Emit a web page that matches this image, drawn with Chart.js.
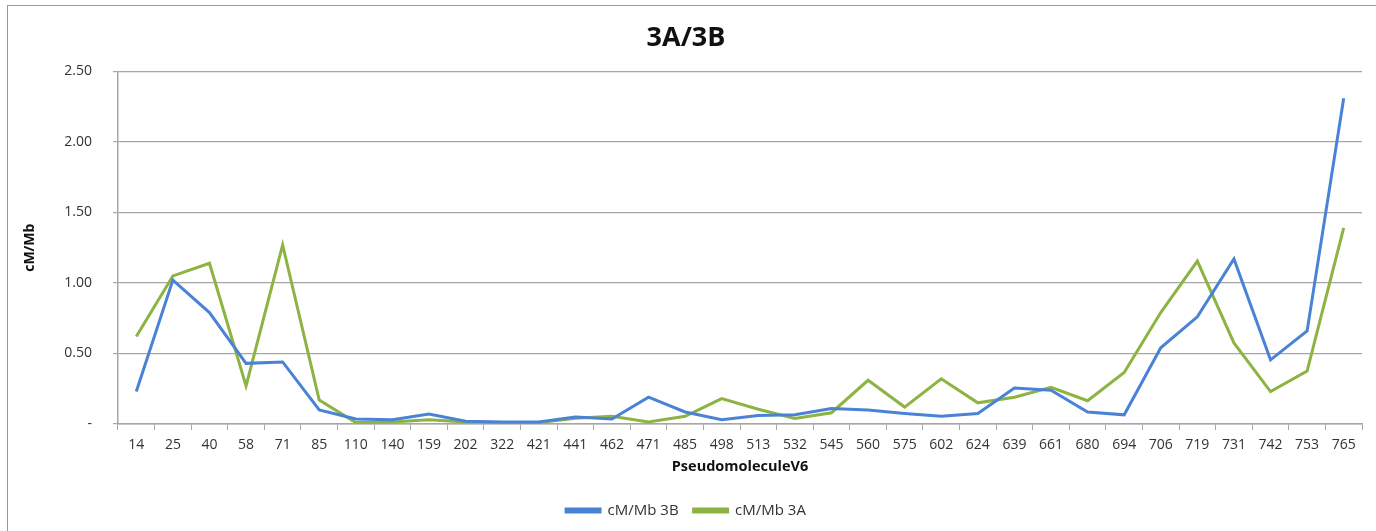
<!DOCTYPE html>
<html>
<head>
<meta charset="utf-8">
<title>3A/3B</title>
<script src="https://cdn.jsdelivr.net/npm/chart.js@4.4.1/dist/chart.umd.min.js"></script>
<style>
  html, body { margin: 0; padding: 0; background: #fff; overflow: hidden; }
  #frame {
    position: absolute; left: 7px; top: 5px; right: -2px; bottom: -2px;
    border-left: 1px solid #9a9a9a; border-top: 1px solid #9a9a9a;
  }
  #chart { position: absolute; left: 0; top: 0; }
</style>
</head>
<body>
<div id="frame"></div>
<canvas id="chart" width="1376" height="531"></canvas>
<script>
// positions along the pseudomolecule
const positions = [14, 25, 40, 58, 71, 85, 110, 140, 159, 202, 322, 421, 441, 462, 471, 485, 498,
  513, 532, 545, 560, 575, 602, 624, 639, 661, 680, 694, 706, 719, 731, 742, 753, 765];

// recombination rate, cM/Mb
const rate3B = [0.23, 1.02, 0.79, 0.43, 0.44, 0.10, 0.035, 0.03, 0.07, 0.02, 0.015, 0.015, 0.05, 0.035,
  0.19, 0.085, 0.03, 0.06, 0.065, 0.11, 0.10, 0.075, 0.055, 0.075, 0.255, 0.24, 0.085, 0.065,
  0.54, 0.76, 1.17, 0.455, 0.66, 2.31];
const rate3A = [0.62, 1.05, 1.14, 0.27, 1.27, 0.17, 0.01, 0.015, 0.03, 0.015, 0.01, 0.01, 0.04, 0.055,
  0.015, 0.055, 0.18, 0.105, 0.04, 0.08, 0.31, 0.12, 0.32, 0.15, 0.19, 0.26, 0.165, 0.365,
  0.79, 1.155, 0.575, 0.23, 0.375, 1.39];

const yTicks = [0, 0.5, 1, 1.5, 2, 2.5];

const baseFont = "'Open Sans', 'DejaVu Sans', sans-serif";
const gridColor = '#a6a6a6';

new Chart(document.getElementById('chart'), {
  type: 'line',
  data: {
    labels: positions.map(String),
    datasets: [
      { label: 'cM/Mb 3B', data: rate3B, borderColor: '#4a83d6', backgroundColor: '#4a83d6',
        borderWidth: 3, pointRadius: 0, tension: 0 },
      { label: 'cM/Mb 3A', data: rate3A, borderColor: '#8db343', backgroundColor: '#8db343',
        borderWidth: 3, pointRadius: 0, tension: 0 }
    ]
  },
  options: {
    responsive: false,
    animation: false,
    devicePixelRatio: 1,
    layout: { padding: { top: 5, left: 10, right: 14, bottom: 3 } },
    plugins: {
      title: {
        display: true, text: '3A/3B', color: '#111',
        font: { family: baseFont, size: 27, weight: 'bold', lineHeight: 1.2 },
        padding: { top: 17, bottom: 17 }
      },
      legend: {
        position: 'bottom',
        labels: {
          color: '#333', font: { family: baseFont, size: 15 },
          boxWidth: 34, boxHeight: 3, padding: 15
        }
      },
      tooltip: { enabled: false }
    },
    scales: {
      x: {
        offset: true,
        grid: { display: true, drawOnChartArea: false, offset: true, tickLength: 6, color: gridColor },
        border: { display: true, color: gridColor, width: 1.5 },
        ticks: { color: '#333', font: { family: baseFont, size: 14 }, padding: 7, maxRotation: 0, autoSkip: false },
        title: {
          display: true, text: 'PseudomoleculeV6', color: '#111',
          font: { family: baseFont, size: 14.5, weight: 'bold' },
          padding: { top: 4, bottom: 12 }
        },
        afterFit: (s) => { s.height = 64; }
      },
      y: {
        min: 0, max: 2.5,
        afterBuildTicks: (s) => { s.ticks = yTicks.map(v => ({ value: v })); },
        grid: { color: gridColor, lineWidth: 1.2, tickLength: 5 },
        border: { display: true, color: gridColor, width: 1.5 },
        ticks: {
          color: '#333', font: { family: baseFont, size: 14 }, padding: 21,
          callback: (v) => v === 0 ? '-' : Number(v).toFixed(2)
        },
        title: {
          display: true, text: 'cM/Mb', color: '#111',
          font: { family: baseFont, size: 14, weight: 'bold' },
          padding: { top: 12, bottom: 0 }
        },
        afterFit: (s) => { s.width = 108; }
      }
    }
  }
});
</script>
</body>
</html>
